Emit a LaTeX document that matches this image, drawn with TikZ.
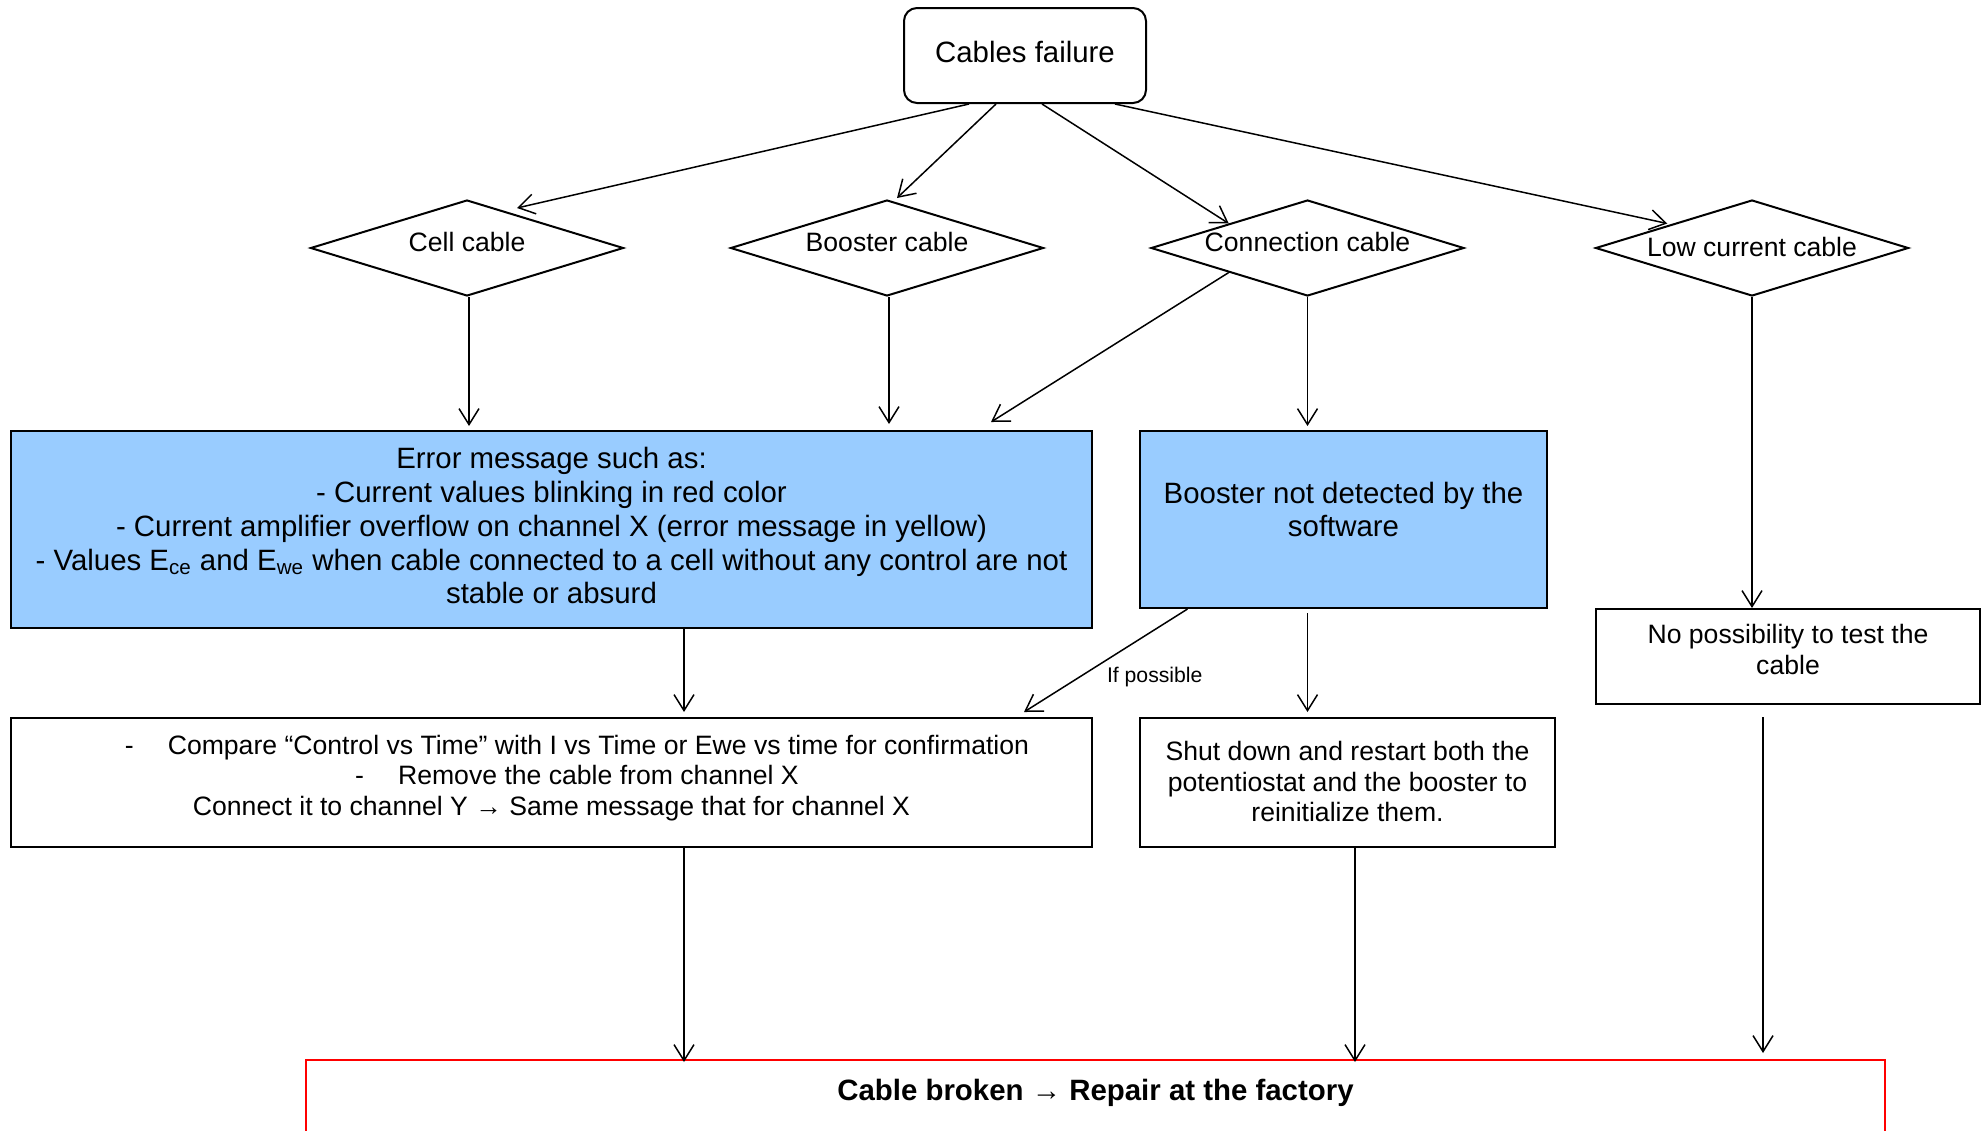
\documentclass[tikz,border=0pt]{standalone}
\usepackage{fontspec}
\setmainfont{Liberation Sans}
\usetikzlibrary{arrows.meta,calc,positioning,shapes.geometric}
\definecolor{errblue}{HTML}{99CCFF}
\newcommand{\bigtxt}{\fontsize{14.7}{16.9}\selectfont}
\newcommand{\smalltxt}{\fontsize{13.3}{15.3}\selectfont}
\newcommand{\lift}[2]{\raisebox{#1}[\height][\depth]{\begin{tabular}{@{}c@{}}#2\end{tabular}}}
\tikzset{
  startbox/.style = {draw, line width=1pt, rounded corners=6.5pt, minimum width=121pt,
                     minimum height=47.5pt, font=\bigtxt},
  choice/.style   = {diamond, aspect=3.26, draw, line width=1pt, inner sep=0pt,
                     minimum width=156.5pt, minimum height=48pt, font=\smalltxt},
  infobox/.style  = {draw, line width=1pt, fill=errblue, font=\bigtxt},
  stepbox/.style  = {draw, line width=1pt, font=\smalltxt},
  endbox/.style   = {draw=red, line width=1.2pt, font=\bigtxt\bfseries},
  arr/.style      = {-{Straight Barb[length=8pt,width=10pt]}, line width=0.75pt},
}

\begin{document}
\begin{tikzpicture}[x=0.5pt,y=-0.5pt]
  \useasboundingbox (0,0) rectangle (1986,1130);
  \node[startbox] (fail) at (1025,55.5) {\lift{0pt}{Cables failure}};
  \node[choice] (cell)  at (467,248)    {\lift{1.25pt}{Cell cable}};
  \node[choice] (boost) at (887,248)    {\lift{1.25pt}{Booster cable}};
  \node[choice] (conn)  at (1307.5,248) {\lift{1.25pt}{Connection cable}};
  \node[choice] (lowc)  at (1752,248)   {\lift{-1.4pt}{Low current cable}};
  \node[infobox, minimum width=540.5pt, minimum height=98.5pt] (err) at (551.5,529.5)
       {\lift{0pt}{Error message such as:\\
        - Current values blinking in red color\\
        - Current amplifier overflow on channel X (error message in yellow)\\
        - Values E\textsubscript{ce} and E\textsubscript{we} when cable connected to a cell without any control are not\\
        stable or absurd}};
  \node[infobox, minimum width=203.5pt, minimum height=88.5pt] (bnd) at (1343.5,519.5)
       {\lift{3.1pt}{Booster not detected by the\\software}};
  \node[stepbox, minimum width=540.5pt, minimum height=64.5pt] (cmp) at (551.5,782.5)
       {\lift{2pt}{\kern25.5pt-\kern17pt Compare “Control vs Time” with I vs Time or Ewe vs time for confirmation\\
        \kern25.5pt-\kern17pt Remove the cable from channel X\\
        Connect it to channel Y → Same message that for channel X}};
  \node[stepbox, minimum width=207.5pt, minimum height=64.5pt] (shut) at (1347.5,782.5)
       {\lift{-1.25pt}{Shut down and restart both the\\potentiostat and the booster to\\reinitialize them.}};
  \node[stepbox, minimum width=192pt, minimum height=47.5pt] (nopos) at (1788,656.5)
       {\lift{1.75pt}{No possibility to test the\\cable}};
  \node[endbox, anchor=north, minimum width=789.5pt, inner ysep=0pt, text height=20.25pt,
        text depth=45pt] (fix) at (1095.5,1059) {Cable broken → Repair at the factory};

  \draw[arr] ([xshift=-28pt]fail.south) -- ([xshift=25pt,yshift=-4.5pt]cell.north);
  \draw[arr] ([xshift=-14.5pt]fail.south) -- ([xshift=5pt,yshift=0.5pt]boost.north);
  \draw[arr] ([xshift=8.5pt]fail.south) -- (conn.north west);
  \draw[arr] ([xshift=45pt]fail.south) -- ([xshift=-3pt]lowc.north west);
  \draw[arr] ([xshift=1pt]cell.south) -- ($(cell.south |- err.north)+(2,-4)$);
  \draw[arr] ([xshift=1pt]boost.south) -- ($(boost.south |- err.north)+(2,-6)$);
  \draw[arr] (conn.south west) -- ($(err.north east)+(-102,-8)$);
  \draw[arr] (conn.south) -- ($(conn.south |- bnd.north)+(0,-4)$);
  \draw[arr] (lowc.south) -- (lowc.south |- nopos.north);
  \draw[arr] ([xshift=66.25pt]err.south) -- ([xshift=66.25pt,yshift=2.5pt]cmp.north);
  \draw[arr] ([xshift=-78pt]bnd.south) -- node[pos=0.66, right=10pt, font=\fontsize{10.6}{12}\selectfont] (ifpos) {If possible}
        ([xshift=-34.5pt,yshift=2.5pt]cmp.north east);
  \draw[arr] ([xshift=-18pt,yshift=-2pt]bnd.south) -- ([xshift=-20pt,yshift=2.5pt]shut.north);
  \draw[arr] ([xshift=66.25pt]cmp.south) -- ([xshift=-205.75pt,yshift=-1.5pt]fix.north);
  \draw[arr] ([xshift=3.75pt]shut.south) -- ([xshift=129.75pt,yshift=-1.5pt]fix.north);
  \draw[arr] ([xshift=-12.5pt,yshift=-6pt]nopos.south) -- ([xshift=333.75pt,yshift=3pt]fix.north);
\end{tikzpicture}
\end{document}
